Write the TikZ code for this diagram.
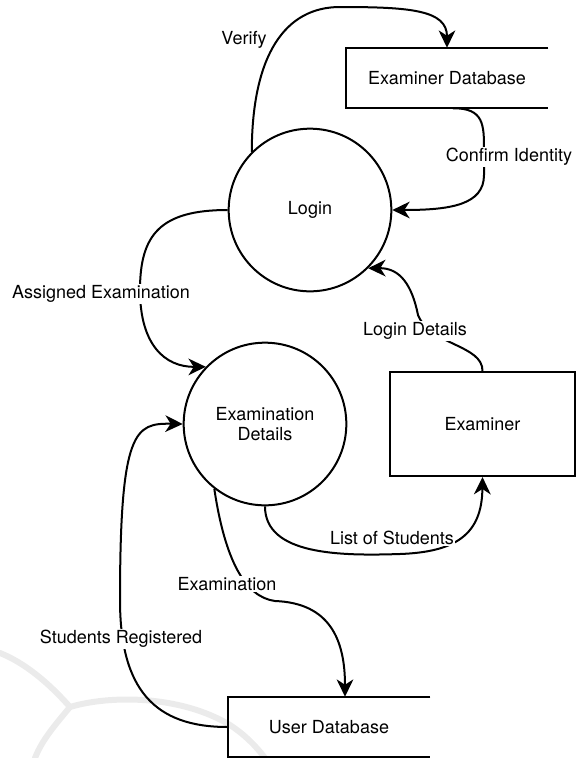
\documentclass[tikz,border=0pt]{standalone}
\usepackage{fontspec}
\setmainfont{TeX Gyre Heros}
\usetikzlibrary{arrows.meta}
\begin{document}
\begin{tikzpicture}[x=0.75pt,y=-0.75pt,
  every node/.style={font=\fontsize{13.5}{15.5}\selectfont},
  proc/.style={circle,draw,line width=1.5pt,minimum size=122pt,inner sep=0pt,align=center},
  store/.style={minimum width=151.5pt,minimum height=45pt,inner sep=0pt},
  ent/.style={draw,line width=1.5pt,minimum width=138.75pt,minimum height=78pt,inner sep=0pt},
  flow/.style={line width=1.5pt,-{Stealth[length=13pt,width=12.5pt,inset=4pt]}},
  plain/.style={line width=1.5pt},
  lbl/.style={fill=white,inner sep=1pt},
  wm/.style={line width=4.5pt,black!8,line cap=round}]
\useasboundingbox (0,0) rectangle (580,758);
% watermark
\draw[wm] (0,653) .. controls (30,665) and (55,690) .. (70,707);
\draw[wm] (70,707) .. controls (55,725) and (42,740) .. (35,758);
\draw[wm] (70,707) .. controls (110,695) and (180,695) .. (230,725) .. controls (245,735) and (255,745) .. (265,758);
% nodes
\node[proc] (login) at (310,210) {Login};
\node[proc] (exd) at (265,424) {Examination\\Details};
\node[store] (edb) at (447,78) {Examiner Database};
\draw[plain] (edb.north east) -- (edb.north west) -- (edb.south west) -- (edb.south east);
\node[store] (udb) at (329,727) {User Database};
\draw[plain] (udb.north east) -- (udb.north west) -- (udb.south west) -- (udb.south east);
\node[ent] (exr) at (482.5,424) {Examiner};
% connectors
\draw[flow] (login.135) .. controls (252,55) and (285,7) .. (340,7) .. controls (410,7) and (447,10) .. (edb.north);
\draw[flow] ([xshift=4.5pt]edb.south) .. controls (484,108) and (484,125) .. (484,150) -- (484,175) .. controls (484,205) and (450,210) .. (login.0);
\draw[flow] (login.180) .. controls (160,210) and (140,235) .. (140,290) .. controls (140,345) and (165,367) .. (exd.136.5);
\draw[flow] (exr.north) .. controls (483,345) and (430,345) .. (418,315) .. controls (412,285) and (400,268) .. (login.315);
\draw[flow] (exd.270) .. controls (265,555) and (340,556) .. (400,554) .. controls (455,552) and (482,535) .. (exr.south);
\draw[flow] (exd.232) .. controls (225,560) and (245,597) .. (275,601) .. controls (330,603) and (345,640) .. ([xshift=12pt]udb.north);
\draw[flow] (udb.west) .. controls (155,727) and (120,690) .. (120,600) .. controls (120,430) and (135,423) .. (exd.180);
% labels
\node[inner sep=1pt] (lverify) at (244,40) {Verify};
\node[lbl] (lconfirm) at (509,157) {Confirm Identity};
\node[lbl] (lassigned) at (101,294) {Assigned Examination};
\node[lbl] (llogin) at (415,331) {Login Details};
\node[lbl] (llist) at (392,538) {List of Students};
\node[lbl] (lexam) at (227,584) {Examination};
\node[lbl] (lstud) at (121,639) {Students Registered};
\end{tikzpicture}
\end{document}
